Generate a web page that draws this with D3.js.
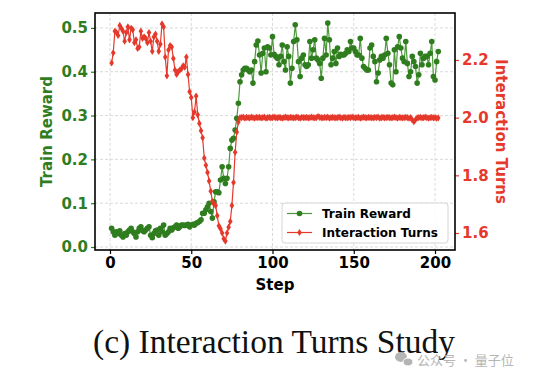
<!DOCTYPE html>
<html>
<head>
<meta charset="utf-8">
<script src="https://cdn.jsdelivr.net/npm/d3@7"></script>
<style>
  body { margin: 0; background: #fff; }
  text { font-family: "DejaVu Sans", sans-serif; }
</style>
</head>
<body>
<div id="chart"></div>
<script>
// Train reward per step (steps 1..202)
var rewardEarly = [
  0.043, 0.035, 0.027, 0.035, 0.031, 0.037, 0.027, 0.023, 0.031, 0.027,
  0.035, 0.039, 0.043, 0.035, 0.031, 0.023, 0.035, 0.043, 0.046, 0.037,
  0.035, 0.039, 0.043, 0.046, 0.027, 0.021, 0.031, 0.037, 0.039, 0.027,
  0.043, 0.035, 0.050, 0.027, 0.031, 0.035, 0.043, 0.039, 0.044, 0.046,
  0.050, 0.043, 0.046, 0.050, 0.050, 0.049, 0.050, 0.052, 0.046, 0.050,
  0.052, 0.050, 0.054, 0.056, 0.058, 0.062, 0.077, 0.077, 0.085, 0.092,
  0.100, 0.081, 0.066, 0.103, 0.126, 0.126, 0.124, 0.153, 0.183, 0.157,
  0.145, 0.157, 0.183, 0.225, 0.244, 0.248, 0.267, 0.294, 0.328, 0.377
];
var rewardLate = [
  0.393, 0.404, 0.408, 0.408, 0.404, 0.400, 0.404, 0.374, 0.423, 0.461,
  0.470, 0.438, 0.397, 0.442, 0.454, 0.400, 0.457, 0.454, 0.438, 0.480,
  0.440, 0.435, 0.431, 0.416, 0.435, 0.461, 0.423, 0.404, 0.457, 0.435,
  0.374, 0.408, 0.469, 0.507, 0.473, 0.423, 0.389, 0.431, 0.438, 0.416,
  0.412, 0.416, 0.469, 0.431, 0.450, 0.473, 0.431, 0.427, 0.419, 0.385,
  0.431, 0.476, 0.438, 0.511, 0.473, 0.416, 0.431, 0.446, 0.419, 0.454,
  0.435, 0.440, 0.438, 0.438, 0.442, 0.450, 0.446, 0.469, 0.454, 0.454,
  0.446, 0.438, 0.438, 0.476, 0.431, 0.412, 0.408, 0.404, 0.404, 0.454,
  0.461, 0.435, 0.423, 0.377, 0.397, 0.427, 0.435, 0.431, 0.438, 0.476,
  0.442, 0.416, 0.374, 0.370, 0.450, 0.400, 0.457, 0.480, 0.454, 0.431,
  0.423, 0.469, 0.419, 0.389, 0.400, 0.435, 0.423, 0.412, 0.374, 0.393,
  0.442, 0.416, 0.431, 0.435, 0.435, 0.416, 0.442, 0.469, 0.389, 0.381,
  0.423, 0.446
];

// Interaction turns per step (steps 1..202)
var turnsEarly = [
  2.190, 2.225, 2.300, 2.295, 2.285, 2.320, 2.310, 2.300, 2.265, 2.295,
  2.315, 2.270, 2.310, 2.305, 2.260, 2.270, 2.240, 2.245, 2.300, 2.275,
  2.280, 2.275, 2.260, 2.295, 2.265, 2.230, 2.280, 2.290, 2.265, 2.230,
  2.255, 2.325, 2.315, 2.210, 2.145, 2.235, 2.250, 2.245, 2.205, 2.165,
  2.150, 2.160, 2.165, 2.170, 2.180, 2.175, 2.210, 2.150, 2.090, 2.070,
  2.000, 2.020, 2.075, 2.010, 1.980, 1.955, 1.930, 1.860, 1.835, 1.810,
  1.780, 1.745, 1.710, 1.700, 1.695, 1.660, 1.625, 1.615, 1.600, 1.580,
  1.572, 1.600, 1.620, 1.640, 1.695, 1.775, 1.880, 1.950, 1.985, 2.000
];
var turnsLate = [
  2.000, 2.002, 1.998, 2.001, 2.000, 1.999, 2.002, 2.000, 1.998, 2.001,
  2.000, 2.001, 1.999, 2.000, 2.002, 1.998, 2.000, 2.001, 1.999, 2.000,
  2.002, 2.000, 1.999, 2.001, 2.000, 1.998, 2.000, 2.002, 2.000, 1.999,
  2.001, 2.000, 1.999, 2.000, 2.002, 2.000, 1.998, 2.001, 2.000, 2.000,
  2.001, 1.999, 2.000, 2.002, 2.000, 1.999, 2.000, 2.004, 2.001, 2.000,
  1.999, 2.001, 2.000, 2.002, 1.998, 2.000, 2.001, 2.000, 1.999, 2.000,
  2.002, 2.000, 1.998, 2.001, 2.000, 1.999, 2.001, 2.000, 2.002, 2.000,
  1.999, 2.000, 2.001, 1.998, 2.000, 2.002, 2.000, 1.999, 2.001, 2.000,
  2.000, 1.999, 2.001, 2.000, 2.002, 1.998, 2.000, 2.001, 1.999, 2.000,
  2.001, 2.000, 1.999, 2.000, 2.002, 2.000, 1.998, 2.001, 2.000, 1.999,
  2.000, 2.001, 2.000, 1.998, 2.000, 1.992, 1.986, 1.993, 1.999, 2.000,
  2.001, 1.999, 2.000, 2.002, 2.000, 1.998, 2.000, 2.001, 1.999, 2.000,
  1.998, 1.999
];

var trainReward = rewardEarly.concat(rewardLate);
var interactionTurns = turnsEarly.concat(turnsLate);
var steps = trainReward.map(function (d, i) { return i + 1; });

var xTicks = [0, 50, 100, 150, 200];
var rewardTicks = [0.0, 0.1, 0.2, 0.3, 0.4, 0.5];
var turnsTicks = [1.6, 1.8, 2.0, 2.2];

var svgWidth = 540;
var svgHeight = 372;
var plot = { left: 95, right: 455, top: 13, bottom: 250 };

var green = "#2f7d1f";
var greenLine = "#4c9a3a";
var red = "#e5392b";

var svg = d3.select("#chart")
  .append("svg")
  .attr("width", svgWidth)
  .attr("height", svgHeight);

var xScale = d3.scaleLinear().domain([-9.23, 212.3]).range([plot.left, plot.right]);
var yLeft = d3.scaleLinear().domain([-0.0068, 0.534]).range([plot.bottom, plot.top]);
var yRight = d3.scaleLinear().domain([1.541, 2.363]).range([plot.bottom, plot.top]);

// grid lines
var grid = svg.append("g");
grid.selectAll(".vgrid")
  .data(xTicks)
  .enter()
  .append("line")
  .attr("x1", d => xScale(d))
  .attr("x2", d => xScale(d))
  .attr("y1", plot.top)
  .attr("y2", plot.bottom)
  .attr("stroke", "#d0d0d0")
  .attr("stroke-width", 0.8)
  .attr("stroke-dasharray", "3,2");
grid.selectAll(".hgrid")
  .data(rewardTicks)
  .enter()
  .append("line")
  .attr("x1", plot.left)
  .attr("x2", plot.right)
  .attr("y1", d => yLeft(d))
  .attr("y2", d => yLeft(d))
  .attr("stroke", "#d0d0d0")
  .attr("stroke-width", 0.8)
  .attr("stroke-dasharray", "3,2");

// train reward line
svg.append("path")
  .datum(steps)
  .attr("fill", "none")
  .attr("stroke", greenLine)
  .attr("stroke-width", 1.2)
  .attr("d", d3.line().x(d => xScale(d)).y((d, i) => yLeft(trainReward[i])));

svg.selectAll(".rewardDot")
  .data(steps)
  .enter()
  .append("circle")
  .attr("cx", d => xScale(d))
  .attr("cy", (d, i) => yLeft(trainReward[i]))
  .attr("r", 2.8)
  .attr("fill", green);

// interaction turns line
svg.append("path")
  .datum(steps)
  .attr("fill", "none")
  .attr("stroke", red)
  .attr("stroke-width", 1.2)
  .attr("d", d3.line().x(d => xScale(d)).y((d, i) => yRight(interactionTurns[i])));

var diamond = "M0,-3.6L2.3,0L0,3.6L-2.3,0Z";
svg.selectAll(".turnsDot")
  .data(steps)
  .enter()
  .append("path")
  .attr("transform", (d, i) => `translate(${xScale(d)},${yRight(interactionTurns[i])})`)
  .attr("d", diamond)
  .attr("fill", red);

// axes
var bottomAxis = d3.axisBottom(xScale).tickValues(xTicks).tickSize(4).tickPadding(3);
var leftAxis = d3.axisLeft(yLeft).tickValues(rewardTicks).tickFormat(d3.format(".1f")).tickSize(4).tickPadding(3);
var rightAxis = d3.axisRight(yRight).tickValues(turnsTicks).tickFormat(d3.format(".1f")).tickSize(4).tickPadding(3);

var gx = svg.append("g")
  .attr("transform", `translate(0, ${plot.bottom})`)
  .call(bottomAxis);
gx.select(".domain").remove();
gx.selectAll("line").attr("stroke", "#000").attr("stroke-width", 1.2);
gx.selectAll("text").attr("font-size", 15).attr("font-weight", "bold").attr("fill", "#000");

var gl = svg.append("g")
  .attr("transform", `translate(${plot.left}, 0)`)
  .call(leftAxis);
gl.select(".domain").remove();
gl.selectAll("line").attr("stroke", green).attr("stroke-width", 1.2);
gl.selectAll("text").attr("font-size", 15).attr("font-weight", "bold").attr("fill", green);

var gr = svg.append("g")
  .attr("transform", `translate(${plot.right}, 0)`)
  .call(rightAxis);
gr.select(".domain").remove();
gr.selectAll("line").attr("stroke", red).attr("stroke-width", 1.2);
gr.selectAll("text").attr("font-size", 15).attr("font-weight", "bold").attr("fill", red);

// frame
svg.append("rect")
  .attr("x", plot.left)
  .attr("y", plot.top)
  .attr("width", plot.right - plot.left)
  .attr("height", plot.bottom - plot.top)
  .attr("fill", "none")
  .attr("stroke", "#000")
  .attr("stroke-width", 1.6);

// axis labels
svg.append("text")
  .attr("x", (plot.left + plot.right) / 2)
  .attr("y", 290)
  .attr("text-anchor", "middle")
  .attr("font-size", 15)
  .attr("font-weight", "bold")
  .text("Step");

svg.append("text")
  .attr("transform", `translate(52, ${(plot.top + plot.bottom) / 2}) rotate(-90)`)
  .attr("text-anchor", "middle")
  .attr("font-size", 15)
  .attr("font-weight", "bold")
  .attr("fill", green)
  .text("Train Reward");

svg.append("text")
  .attr("transform", `translate(496, ${(plot.top + plot.bottom) / 2}) rotate(90)`)
  .attr("text-anchor", "middle")
  .attr("font-size", 15)
  .attr("font-weight", "bold")
  .attr("fill", red)
  .text("Interaction Turns");

// legend
var legend = svg.append("g");
legend.append("rect")
  .attr("x", 282)
  .attr("y", 203)
  .attr("width", 166)
  .attr("height", 40)
  .attr("rx", 3)
  .attr("fill", "#fff")
  .attr("fill-opacity", 0.85)
  .attr("stroke", "#d5d5d5")
  .attr("stroke-width", 1);

legend.append("line")
  .attr("x1", 287).attr("x2", 312).attr("y1", 213.5).attr("y2", 213.5)
  .attr("stroke", greenLine).attr("stroke-width", 1.2);
legend.append("circle")
  .attr("cx", 299.5).attr("cy", 213.5).attr("r", 2.8).attr("fill", green);
legend.append("text")
  .attr("x", 322).attr("y", 218)
  .attr("font-size", 12).attr("font-weight", "bold")
  .text("Train Reward");

legend.append("line")
  .attr("x1", 287).attr("x2", 312).attr("y1", 232.5).attr("y2", 232.5)
  .attr("stroke", red).attr("stroke-width", 1.2);
legend.append("path")
  .attr("transform", "translate(299.5, 232.5)")
  .attr("d", diamond)
  .attr("fill", red);
legend.append("text")
  .attr("x", 322).attr("y", 237)
  .attr("font-size", 12).attr("font-weight", "bold")
  .text("Interaction Turns");

// caption
svg.append("text")
  .attr("x", 274)
  .attr("y", 353)
  .attr("text-anchor", "middle")
  .style("font-family", "'Liberation Serif', 'Times New Roman', serif")
  .attr("font-size", 33.5)
  .attr("fill", "#111")
  .text("(c) Interaction Turns Study");

// watermark
var wm = svg.append("g").attr("fill", "#b5b5b5");
wm.append("ellipse").attr("cx", 401).attr("cy", 357).attr("rx", 6).attr("ry", 5);
wm.append("ellipse").attr("cx", 408).attr("cy", 362).attr("rx", 5).attr("ry", 4).attr("stroke", "#fff").attr("stroke-width", 1);
wm.append("text")
  .attr("x", 417)
  .attr("y", 365)
  .style("font-family", "'Noto Sans CJK SC', sans-serif")
  .attr("font-size", 13)
  .text("公众号 · 量子位");
</script>
</body>
</html>
